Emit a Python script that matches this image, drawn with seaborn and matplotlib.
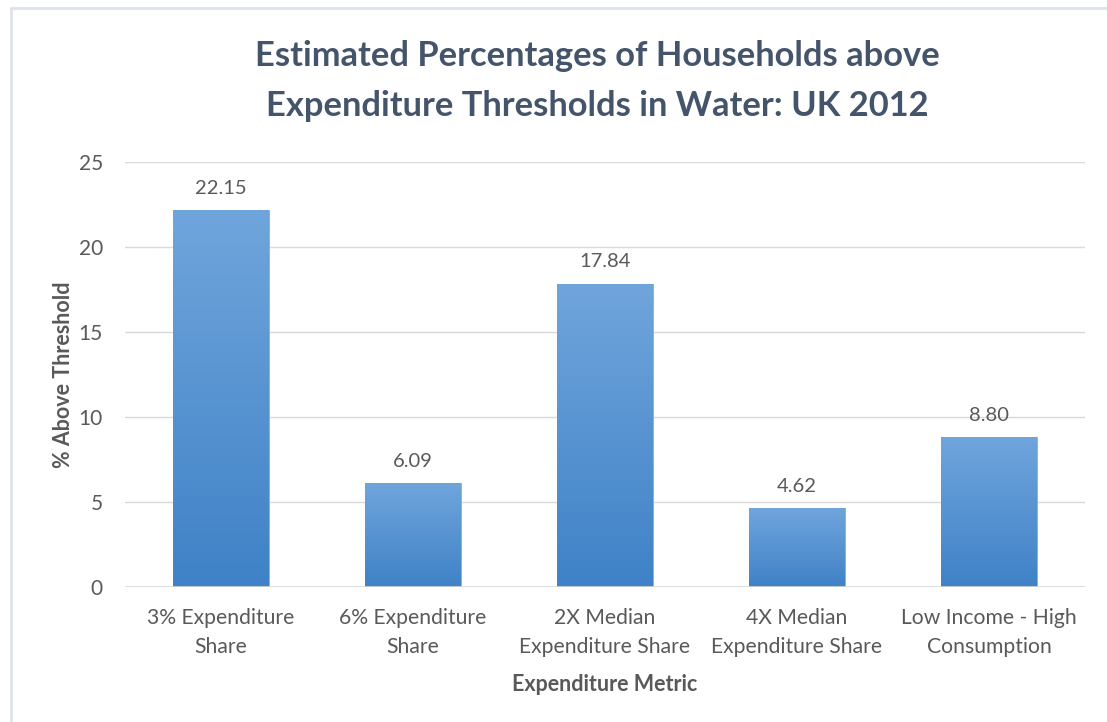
import numpy as np
import pandas as pd
import matplotlib
matplotlib.use("Agg")
import matplotlib.pyplot as plt
from matplotlib.colors import LinearSegmentedColormap
from matplotlib.lines import Line2D
import seaborn as sns

# Expenditure metrics and share of households above each threshold (%)
categories = [
    "3% Expenditure\nShare",
    "6% Expenditure\nShare",
    "2X Median\nExpenditure Share",
    "4X Median\nExpenditure Share",
    "Low Income - High\nConsumption",
]
values = [22.15, 6.09, 17.84, 4.62, 8.80]
y_ticks = [0, 5, 10, 15, 20, 25]

title = "Estimated Percentages of Households above\nExpenditure Thresholds in Water: UK 2012"
x_label = "Expenditure Metric"
y_label = "% Above Threshold"

df = pd.DataFrame({"metric": categories, "pct": values})

sns.set_theme(style="white")
plt.rcParams["font.family"] = ["Lato", "DejaVu Sans"]

text_grey = "#595959"
title_col = "#44546a"
grid_col = "#d9d9d9"

fig = plt.figure(figsize=(11.07, 7.22), dpi=100)
ax = fig.add_axes([0.1129, 0.187, 0.8672, 0.5886])

sns.barplot(data=df, x="metric", y="pct", color="#5b9bd5", width=0.5,
            ax=ax, zorder=2, saturation=1)

# vertical gradient fill for each bar
grad = LinearSegmentedColormap.from_list("bar", ["#3f82c7", "#70a5dc"])
gradient = np.linspace(0, 1, 256).reshape(-1, 1)
for patch in ax.patches:
    x0, y0 = patch.get_x(), patch.get_y()
    w, h = patch.get_width(), patch.get_height()
    patch.set_edgecolor("#7fb0e0")
    patch.set_linewidth(0.6)
    im = ax.imshow(gradient, cmap=grad, origin="lower", aspect="auto",
                   extent=(x0, x0 + w, y0, y0 + h), zorder=2.5)
    im.set_clip_path(patch)
    ax.text(x0 + w / 2, h + 0.8, f"{h:.2f}", ha="center", va="bottom",
            fontsize=14.5, color=text_grey)

ax.set_xlim(-0.5, len(categories) - 0.5)
ax.set_ylim(0, 25)
ax.set_yticks(y_ticks)
ax.set_yticklabels([str(t) for t in y_ticks])
ax.yaxis.grid(True, color=grid_col, linewidth=1)
ax.set_axisbelow(True)
for s in ax.spines.values():
    s.set_visible(False)
ax.axhline(0, color=grid_col, linewidth=1.2, zorder=3)

ax.tick_params(axis="y", length=0, pad=16, labelsize=15, labelcolor=text_grey)
ax.tick_params(axis="x", length=0, pad=15, labelsize=15.2, labelcolor=text_grey)
for lbl in ax.get_xticklabels():
    lbl.set_linespacing(1.58)

ax.set_xlabel(x_label, fontsize=15.5, fontweight="bold", color=text_grey, labelpad=12)
ax.set_ylabel(y_label, fontsize=15.5, fontweight="bold", color=text_grey, labelpad=3)

fig.text(0.540, 0.888, title, ha="center", va="center", fontsize=24.8,
         fontweight="bold", color=title_col, linespacing=1.72)

# thin frame lines along the top and left edges
fig.add_artist(Line2D([0.0099, 1.0], [0.9889, 0.9889], transform=fig.transFigure,
                      color="#dde3ea", linewidth=2))
fig.add_artist(Line2D([0.0099, 0.0099], [0.0, 0.9889], transform=fig.transFigure,
                      color="#dde3ea", linewidth=2))

fig.savefig("out.png", dpi=100)
